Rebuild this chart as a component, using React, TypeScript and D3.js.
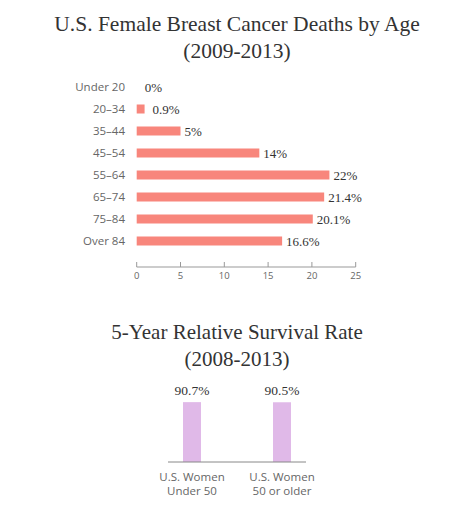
import React from "react";
import * as d3 from "d3";

const ageGroups = ["Under 20", "20–34", "35–44", "45–54", "55–64", "65–74", "75–84", "Over 84"];
const deathShares = [0, 0.9, 5, 14, 22, 21.4, 20.1, 16.6];
const deathLabels = ["0%", "0.9%", "5%", "14%", "22%", "21.4%", "20.1%", "16.6%"];
const xTicks = [0, 5, 10, 15, 20, 25];

const survivalGroups = [["U.S. Women", "Under 50"], ["U.S. Women", "50 or older"]];
const survivalRates = [90.7, 90.5];
const survivalLabels = ["90.7%", "90.5%"];

const SERIF = "'Liberation Serif', 'DejaVu Serif', serif";
const SANS = "'Open Sans', 'Noto Sans', sans-serif";
const SALMON = "#f8867c";
const LILAC = "#e0b9e8";
const TEXT = "#333";
const GREY = "#666";

export default function App() {
  const x = d3.scaleLinear().domain([0, 25]).range([136.7, 355.7]);
  const y = d3.scaleBand<string>().domain(ageGroups).range([76, 252]).padding(0);
  const barH = 9;
  const axisY = 267;

  const sx = d3.scalePoint<number>().domain([0, 1]).range([192, 282]);
  const sy = d3.scaleLinear().domain([0, 100]).range([462, 396]);
  const sBarW = 18;

  return (
    <svg
      width={474}
      height={512}
      style={{ position: "absolute", left: 0, top: 0, background: "#fff" }}
    >
      <rect width={474} height={512} fill="#fff" />
      {/* Title 1 */}
      <text x={237} y={31} textAnchor="middle" fontFamily={SERIF} fontSize={21.5} fill={TEXT}>
        U.S. Female Breast Cancer Deaths by Age
      </text>
      <text x={237} y={58} textAnchor="middle" fontFamily={SERIF} fontSize={21.5} fill={TEXT}>
        (2009-2013)
      </text>

      {/* Bars */}
      {ageGroups.map((g, i) => {
        const cy = (y(g) as number) + y.bandwidth() / 2;
        const w = x(deathShares[i]) - x(0);
        return (
          <g key={g}>
            <text x={125} y={cy} dy="0.35em" textAnchor="end" fontFamily={SANS} fontSize={11.5} fill={GREY}>
              {g}
            </text>
            {w > 0 && <rect x={x(0)} y={cy - barH / 2} width={w} height={barH} fill={SALMON} />}
            <text
              x={x(deathShares[i]) + (deathShares[i] < 2 ? 8 : 4)}
              y={cy}
              dy="0.35em"
              fontFamily={SERIF}
              fontSize={13}
              fill={TEXT}
            >
              {deathLabels[i]}
            </text>
          </g>
        );
      })}

      {/* X axis */}
      <line x1={x(0)} x2={x(25)} y1={axisY} y2={axisY} stroke="#999" strokeWidth={1} />
      {xTicks.map((t) => (
        <g key={t}>
          <line x1={x(t)} x2={x(t)} y1={axisY - 5} y2={axisY} stroke="#999" strokeWidth={1} />
          <text x={x(t)} y={276} dy="0.35em" textAnchor="middle" fontFamily={SANS} fontSize={9.5} fill={GREY}>
            {t}
          </text>
        </g>
      ))}

      {/* Title 2 */}
      <text x={237} y={339} textAnchor="middle" fontFamily={SERIF} fontSize={21} fill={TEXT}>
        5-Year Relative Survival Rate
      </text>
      <text x={237} y={366} textAnchor="middle" fontFamily={SERIF} fontSize={21} fill={TEXT}>
        (2008-2013)
      </text>

      {survivalRates.map((v, i) => {
        const cx = sx(i) as number;
        return (
          <g key={i}>
            <rect x={cx - sBarW / 2} y={sy(v)} width={sBarW} height={sy(0) - sy(v)} fill={LILAC} />
            <text x={cx} y={sy(v) - 7} textAnchor="middle" fontFamily={SERIF} fontSize={13.5} fill={TEXT}>
              {survivalLabels[i]}
            </text>
            {survivalGroups[i].map((line, j) => (
              <text
                key={j}
                x={cx}
                y={481 + j * 14}
                textAnchor="middle"
                fontFamily={SANS}
                fontSize={11.5}
                fill={GREY}
              >
                {line}
              </text>
            ))}
          </g>
        );
      })}
      <line
        x1={(sx(0) as number) - 24}
        x2={(sx(1) as number) + 24}
        y1={sy(0)}
        y2={sy(0)}
        stroke="#888"
        strokeWidth={1}
      />
    </svg>
  );
}
